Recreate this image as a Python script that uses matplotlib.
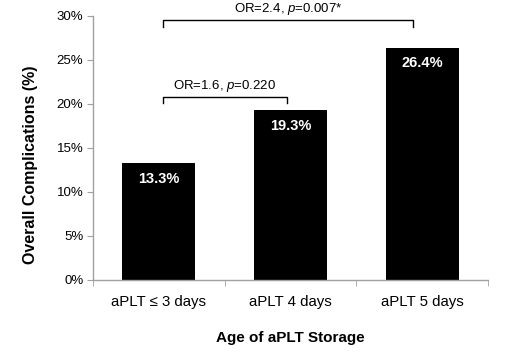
import matplotlib
matplotlib.use("Agg")
import matplotlib.pyplot as plt

plt.rcParams['font.family'] = ['Liberation Sans', 'DejaVu Sans']
plt.rcParams['mathtext.fontset'] = 'custom'
plt.rcParams['mathtext.rm'] = 'Liberation Sans'
plt.rcParams['mathtext.it'] = 'Liberation Sans:italic'

categories = ['aPLT ≤ 3 days', 'aPLT 4 days', 'aPLT 5 days']
values = [13.3, 19.3, 26.4]
yticks = [0, 5, 10, 15, 20, 25, 30]
comparisons = [
    (0.03, 0.975, 20.8, 20.1, r'OR=1.6, $\it{p}$=0.220'),
    (0.03, 1.93, 29.6, 28.8, r'OR=2.4, $\it{p}$=0.007*'),
]

fig = plt.figure(figsize=(5.05, 3.52), dpi=100)
ax = fig.add_axes([93/505, 1-280/352, (488-93)/505, (280-16)/352])

x = list(range(len(categories)))
bars = ax.bar(x, values, width=0.555, color='black')
for xi, v in zip(x, values):
    ax.text(xi, v - 1.0, f'{v:.1f}%', color='white', fontweight='bold',
            ha='center', va='top', fontsize=10.5)

ax.set_xlim(-0.5, 2.5)
ax.set_ylim(0, 30)
ax.set_yticks(yticks)
ax.set_yticklabels([f'{t}%' for t in yticks], fontsize=9.5)
ax.set_xticks(x)
ax.set_xticklabels(categories, fontsize=10.8)
ax.tick_params(axis='x', length=0, pad=11)
ax.set_xticks([-0.5, 0.5, 1.5, 2.5], minor=True)
ax.tick_params(axis='x', which='minor', length=4, color='#a0a0a0')
ax.tick_params(axis='y', length=4, color='#a0a0a0', pad=3)

for s in ['top', 'right']:
    ax.spines[s].set_visible(False)
for s in ['left', 'bottom']:
    ax.spines[s].set_color('#a0a0a0')
    ax.spines[s].set_linewidth(1)

for x0, x1, ytop, ybot, label in comparisons:
    ax.plot([x0, x0, x1, x1], [ybot, ytop, ytop, ybot], color='black', lw=1,
            clip_on=False)
    ax.text((x0 + x1) / 2, ytop + 0.3, label, ha='center', va='bottom',
            fontsize=9.5, clip_on=False)

ax.set_ylabel('Overall Complications (%)', fontweight='bold', fontsize=11.5)
ax.yaxis.set_label_coords((30 - 93) / 395, (280 - 165) / 264)
ax.yaxis.label.set_va('center')
ax.set_xlabel('Age of aPLT Storage', fontweight='bold', fontsize=11)
ax.xaxis.set_label_coords(0.5, -(338 - 280) / 264)
ax.xaxis.label.set_va('center')

fig.savefig('out.png', dpi=100)
